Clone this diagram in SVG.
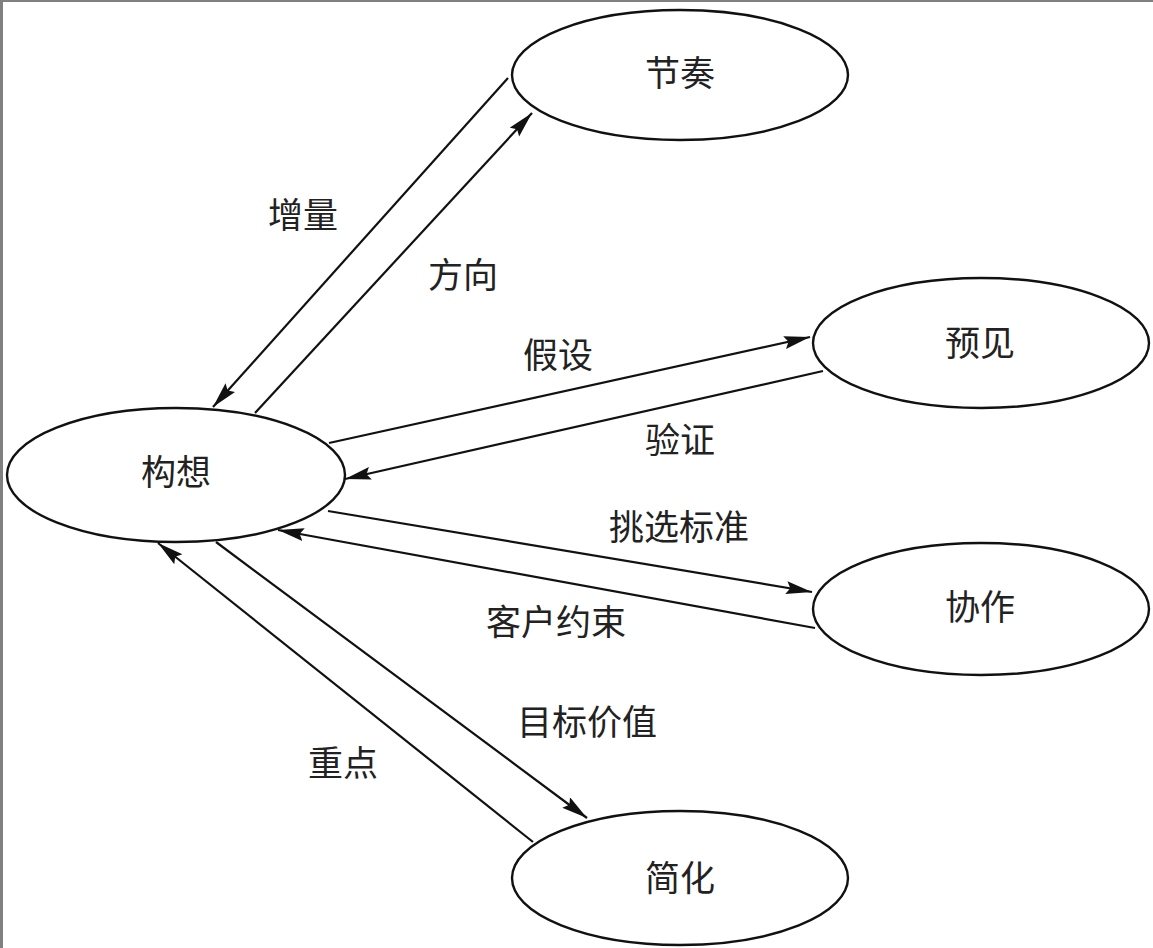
<svg xmlns="http://www.w3.org/2000/svg" width="1153" height="948" viewBox="0 0 1153 948">
<style>
.node ellipse{fill:#fff;stroke:#111;stroke-width:2.4}
text{font-family:"Noto Sans CJK SC","Noto Sans CJK JP",sans-serif;font-size:35px;fill:#222;text-anchor:middle;dominant-baseline:central}
.edge{stroke:#111;stroke-width:2.2;fill:none;marker-end:url(#ah)}
</style>
<defs>
<marker id="ah" markerUnits="userSpaceOnUse" markerWidth="28" markerHeight="14" refX="26" refY="6.5" orient="auto">
<path d="M0,0 L26,6.5 L0,13 L4,6.5 Z" fill="#111"/>
</marker>
</defs>
<rect x="0" y="0" width="1153" height="948" fill="#fff"/>
<rect x="0" y="0" width="3" height="948" fill="#808080"/>
<rect x="0" y="0" width="1153" height="2" fill="#808080"/>
<g id="edges">
<line class="edge" x1="508" y1="78" x2="213" y2="407"/>
<line class="edge" x1="255" y1="413" x2="532" y2="113"/>
<line class="edge" x1="329" y1="443" x2="810" y2="337"/>
<line class="edge" x1="823" y1="371" x2="345" y2="479"/>
<line class="edge" x1="328" y1="511" x2="812" y2="592"/>
<line class="edge" x1="815" y1="628" x2="278" y2="530"/>
<line class="edge" x1="216" y1="542" x2="587" y2="818"/>
<line class="edge" x1="533" y1="842" x2="158" y2="543"/>
</g>
<g id="edge-labels">
<text x="303" y="212">增量</text>
<text x="463" y="272">方向</text>
<text x="558" y="352">假设</text>
<text x="680" y="437">验证</text>
<text x="679" y="524">挑选标准</text>
<text x="556" y="619">客户约束</text>
<text x="587" y="719">目标价值</text>
<text x="343" y="760">重点</text>
</g>
<g id="n-gouxiang" class="node"><ellipse cx="176" cy="475" rx="169" ry="67"/><text x="176" y="469">构想</text></g>
<g id="n-jiezou" class="node"><ellipse cx="680" cy="75" rx="168" ry="65"/><text x="680" y="70">节奏</text></g>
<g id="n-yujian" class="node"><ellipse cx="981" cy="343" rx="168" ry="65"/><text x="980" y="340">预见</text></g>
<g id="n-xiezuo" class="node"><ellipse cx="981" cy="609" rx="168" ry="66"/><text x="980" y="604">协作</text></g>
<g id="n-jianhua" class="node"><ellipse cx="680" cy="878" rx="168" ry="67"/><text x="680" y="875">简化</text></g>
</svg>
